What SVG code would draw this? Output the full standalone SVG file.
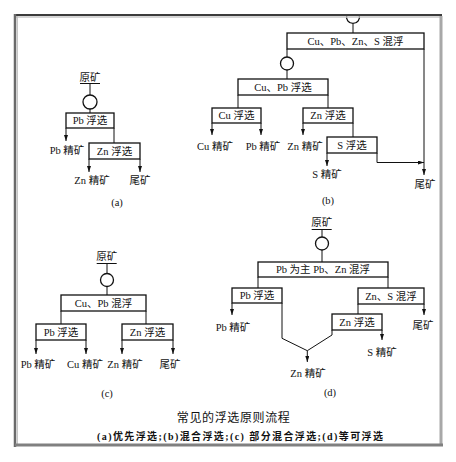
<svg xmlns="http://www.w3.org/2000/svg" width="456" height="462" viewBox="0 0 456 462">
<style>
.box{fill:#fff;stroke:#111;stroke-width:1.3}
.ln{fill:none;stroke:#111;stroke-width:1}
.ar{fill:none;stroke:#111;stroke-width:1;marker-end:url(#arr)}
.t{font-family:"Liberation Serif","Noto Sans CJK SC",serif;font-size:10.5px;fill:#111;text-anchor:middle}
.cap{font-family:"Liberation Serif","Noto Sans CJK SC",serif;fill:#111;text-anchor:middle}
</style>
<defs>
<marker id="arr" viewBox="0 0 6 4" refX="6" refY="2" markerWidth="6" markerHeight="4" markerUnits="userSpaceOnUse" orient="auto">
<path d="M0,0 L6,2 L0,4 z" fill="#111"/>
</marker>
</defs>
<rect width="456" height="462" fill="#fff"/>

<g id="connectors">
<!-- (a) -->
<line class="ln" x1="80" y1="83.5" x2="100" y2="83.5"/>
<line class="ln" x1="90" y1="83.5" x2="90" y2="95"/>
<line class="ln" x1="90" y1="109" x2="90" y2="113"/>
<line class="ar" x1="66" y1="128" x2="66" y2="141"/>
<line class="ln" x1="114" y1="128" x2="114" y2="143"/>
<line class="ar" x1="89" y1="159" x2="89" y2="172"/>
<line class="ar" x1="140" y1="159" x2="140" y2="172"/>
<!-- (b) -->
<line class="ln" x1="353" y1="23.5" x2="353" y2="33"/>
<line class="ln" x1="287" y1="49" x2="287" y2="57"/>
<line class="ln" x1="287" y1="70" x2="287" y2="79"/>
<line class="ln" x1="238" y1="95" x2="238" y2="108"/>
<line class="ln" x1="328" y1="95" x2="328" y2="108"/>
<line class="ar" x1="212" y1="123" x2="212" y2="135"/>
<line class="ar" x1="261" y1="123" x2="261" y2="135"/>
<line class="ar" x1="303" y1="123" x2="303" y2="135"/>
<line class="ln" x1="353" y1="123" x2="353" y2="137"/>
<line class="ar" x1="327" y1="153" x2="327" y2="166"/>
<polyline class="ar" points="377,153 377,162.5 424,162.5"/>
<line class="ar" x1="424" y1="49" x2="424" y2="175"/>
<!-- (c) -->
<line class="ln" x1="96.7" y1="263.5" x2="116.7" y2="263.5"/>
<line class="ln" x1="107" y1="263.5" x2="107" y2="273.5"/>
<line class="ln" x1="107" y1="286.5" x2="107" y2="295"/>
<line class="ln" x1="61" y1="311" x2="61" y2="324"/>
<line class="ln" x1="146" y1="311" x2="146" y2="324"/>
<line class="ar" x1="36" y1="340" x2="36" y2="354"/>
<line class="ar" x1="86" y1="340" x2="86" y2="354"/>
<line class="ar" x1="122" y1="340" x2="122" y2="354"/>
<line class="ar" x1="173" y1="340" x2="173" y2="354"/>
<!-- (d) -->
<line class="ln" x1="311.7" y1="229.5" x2="331.7" y2="229.5"/>
<line class="ln" x1="322" y1="229.5" x2="322" y2="237"/>
<line class="ln" x1="322" y1="250" x2="322" y2="262"/>
<line class="ln" x1="258" y1="277" x2="258" y2="288"/>
<line class="ln" x1="388" y1="277" x2="388" y2="288"/>
<line class="ar" x1="232" y1="303" x2="232" y2="315"/>
<polyline class="ln" points="282,303 282,338.3 307.3,350.7"/>
<polyline class="ln" points="332,330 332,335 307.3,350.7"/>
<line class="ar" x1="307.3" y1="350.7" x2="307.3" y2="362"/>
<line class="ln" x1="358" y1="304" x2="358" y2="314"/>
<line class="ar" x1="382" y1="330" x2="382" y2="340"/>
<line class="ar" x1="424" y1="304" x2="424" y2="315"/>
</g>

<!-- (a) nodes -->
<g id="a-ore"><text class="t" x="90" y="80.7">原矿</text></g>
<g id="a-pump"><circle class="box" cx="90" cy="102" r="7"/></g>
<g id="a-pb"><rect class="box" x="66" y="113" width="48" height="15"/><text class="t" x="90" y="124.4">Pb 浮选</text></g>
<g id="a-pbc"><text class="t" x="67" y="154">Pb 精矿</text></g>
<g id="a-zn"><rect class="box" x="89" y="143" width="51" height="16"/><text class="t" x="114.5" y="154.9">Zn 浮选</text></g>
<g id="a-znc"><text class="t" x="92" y="184">Zn 精矿</text></g>
<g id="a-tail"><text class="t" x="140" y="184">尾矿</text></g>
<g id="a-label"><text class="t" x="117" y="205.5">(a)</text></g>

<!-- (b) nodes -->
<g id="b-pump1"><path class="box" d="M346.8,15 A6.5,6.5 0 1 0 359.2,15"/></g>
<g id="b-all"><rect class="box" x="287" y="33" width="137" height="16"/><text class="t" x="355.5" y="44.9">Cu、Pb、Zn、S 混浮</text></g>
<g id="b-pump2"><circle class="box" cx="287" cy="63.5" r="6.5"/></g>
<g id="b-cupb"><rect class="box" x="238" y="79" width="90" height="16"/><text class="t" x="283" y="90.9">Cu、Pb 浮选</text></g>
<g id="b-cu"><rect class="box" x="212" y="108" width="49" height="15"/><text class="t" x="236.5" y="119.4">Cu 浮选</text></g>
<g id="b-zn"><rect class="box" x="303" y="108" width="50" height="15"/><text class="t" x="328" y="119.4">Zn 浮选</text></g>
<g id="b-s"><rect class="box" x="327" y="137" width="50" height="16"/><text class="t" x="352" y="148.9">S 浮选</text></g>
<g id="b-cuc"><text class="t" x="215" y="149.5">Cu 精矿</text></g>
<g id="b-pbc"><text class="t" x="263" y="149.5">Pb 精矿</text></g>
<g id="b-znc"><text class="t" x="305" y="149.5">Zn 精矿</text></g>
<g id="b-sc"><text class="t" x="327" y="177.7">S 精矿</text></g>
<g id="b-tail"><text class="t" x="425" y="187.7">尾矿</text></g>
<g id="b-label"><text class="t" x="328" y="204">(b)</text></g>

<!-- (c) nodes -->
<g id="c-ore"><text class="t" x="106.7" y="260.4">原矿</text></g>
<g id="c-pump"><circle class="box" cx="107" cy="280" r="6.5"/></g>
<g id="c-mix"><rect class="box" x="61" y="295" width="85" height="16"/><text class="t" x="103.5" y="306.9">Cu、Pb 混浮</text></g>
<g id="c-pb"><rect class="box" x="36" y="324" width="50" height="16"/><text class="t" x="61" y="335.9">Pb 浮选</text></g>
<g id="c-zn"><rect class="box" x="122" y="324" width="51" height="16"/><text class="t" x="147.5" y="335.9">Zn 浮选</text></g>
<g id="c-pbc"><text class="t" x="38" y="368">Pb 精矿</text></g>
<g id="c-cuc"><text class="t" x="85" y="368">Cu 精矿</text></g>
<g id="c-znc"><text class="t" x="125" y="368">Zn 精矿</text></g>
<g id="c-tail"><text class="t" x="170" y="368">尾矿</text></g>
<g id="c-label"><text class="t" x="107" y="397">(c)</text></g>

<!-- (d) nodes -->
<g id="d-ore"><text class="t" x="321.7" y="226.2">原矿</text></g>
<g id="d-pump"><circle class="box" cx="322" cy="243.5" r="6.5"/></g>
<g id="d-mix"><rect class="box" x="258" y="262" width="130" height="15"/><text class="t" x="323" y="273.4">Pb 为主 Pb、Zn 混浮</text></g>
<g id="d-pb"><rect class="box" x="232" y="288" width="50" height="15"/><text class="t" x="257" y="299.4">Pb 浮选</text></g>
<g id="d-zns"><rect class="box" x="358" y="288" width="66" height="16"/><text class="t" x="391" y="299.9">Zn、S 混浮</text></g>
<g id="d-zn"><rect class="box" x="332" y="314" width="50" height="16"/><text class="t" x="357" y="325.9">Zn 浮选</text></g>
<g id="d-pbc"><text class="t" x="233" y="330.5">Pb 精矿</text></g>
<g id="d-sc"><text class="t" x="382" y="355.7">S 精矿</text></g>
<g id="d-tail"><text class="t" x="423" y="329.2">尾矿</text></g>
<g id="d-znc"><text class="t" x="308" y="377.4">Zn 精矿</text></g>
<g id="d-label"><text class="t" x="330" y="395.5">(d)</text></g>

<!-- caption -->
<g id="caption">
<text class="cap" x="233.3" y="421.5" font-size="12" textLength="113" lengthAdjust="spacing">常见的浮选原则流程</text>
<text class="cap" x="240" y="439.5" font-size="10" font-weight="bold" textLength="286" lengthAdjust="spacing">(a)优先浮选;(b)混合浮选;(c) 部分混合浮选;(d)等可浮选</text>
</g>

<!-- frame -->
<g id="frame" fill="none">
<line x1="14" y1="15" x2="442" y2="15" stroke="#3c3c3c" stroke-width="2"/>
<line x1="16" y1="17" x2="440" y2="17" stroke="#c8c8c8" stroke-width="1.5"/>
<line x1="15" y1="14" x2="15" y2="447" stroke="#6a6a6a" stroke-width="2.5"/>
<line x1="17.3" y1="16" x2="17.3" y2="444" stroke="#c0c0c0" stroke-width="1.2"/>
<line x1="441" y1="16" x2="441" y2="446" stroke="#a8a8a8" stroke-width="3"/>
<line x1="15" y1="445" x2="443" y2="445" stroke="#808080" stroke-width="3"/>
</g>
</svg>
